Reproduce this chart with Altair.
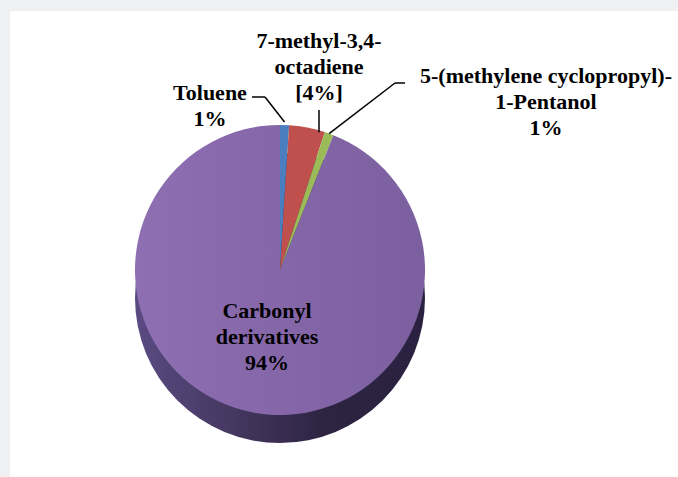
import math
import altair as alt
import pandas as pd

# ---- data ----
categories = ["Toluene", "7-methyl-3,4-octadiene",
              "5-(methylene cyclopropyl)-1-Pentanol", "Carbonyl derivatives"]
values = [1, 4, 1, 94]
label_lines = [["Toluene", "1%"],
               ["7-methyl-3,4-", "octadiene", "[4%]"],
               ["5-(methylene cyclopropyl)-", "1-Pentanol", "1%"],
               ["Carbonyl", "derivatives", "94%"]]
colors = ["#4a7ebf", "#c0504d", "#9bbb59", "#8466a8"]

# ---- layout (pixels) ----
W, H = 678, 477
CX, CY, R, DEPTH = 280, 270, 145, 28
label_xy = [(210, 93), (319, 41), (546, 76), (267, 311)]  # first-line centres
FONT = "Liberation Serif"

df = pd.DataFrame({"category": categories, "value": values,
                   "idx": list(range(len(categories)))})

# mid-angle edge points of each slice (derived from the values)
total = sum(values)
cum = 0
edge = []
for v in values:
    mid = (cum + v / 2) / total * 2 * math.pi
    edge.append((CX + R * math.sin(mid), CY - R * math.cos(mid)))
    cum += v

# leader lines
x_red = label_xy[1][0]
y_red = CY - math.sqrt(R ** 2 - (x_red - CX) ** 2)
segs = pd.DataFrame([
    {"x": 252, "y": 97, "x2": 265, "y2": 97},
    {"x": 265, "y": 97, "x2": edge[0][0], "y2": edge[0][1] - 3},
    {"x": x_red, "y": 110, "x2": x_red, "y2": y_red + 2},
    {"x": 405, "y": 83, "x2": 395, "y2": 83},
    {"x": 395, "y": 83, "x2": edge[2][0], "y2": edge[2][1]},
])

labels = pd.DataFrame({
    "x": [p[0] for p in label_xy],
    "y": [p[1] for p in label_xy],
    "text": ["\n".join(l) for l in label_lines],
})

frame = alt.Chart(pd.DataFrame({"a": [0]})).mark_rect(color="white").encode(
    x=alt.value(10), x2=alt.value(W), y=alt.value(11), y2=alt.value(H))

side_grad = alt.LinearGradient(
    gradient="linear", x1=0, x2=1, y1=0, y2=0,
    stops=[alt.GradientStop(color="#5a4a82", offset=0),
           alt.GradientStop(color="#44375f", offset=0.35),
           alt.GradientStop(color="#2d2442", offset=0.65),
           alt.GradientStop(color="#2a2140", offset=1)])

side = alt.Chart(df).mark_arc(outerRadius=R, fill=side_grad).encode(
    theta=alt.Theta("sum(value):Q"),
    x=alt.value(CX), y=alt.value(CY + DEPTH))

top_grad = alt.LinearGradient(
    gradient="linear", x1=0, x2=1, y1=0, y2=0,
    stops=[alt.GradientStop(color="#8d6fb2", offset=0),
           alt.GradientStop(color="#8567a9", offset=0.5),
           alt.GradientStop(color="#7b5f9e", offset=1)])

top = alt.Chart(df).mark_arc(outerRadius=R).encode(
    theta=alt.Theta("value:Q", stack=True),
    order=alt.Order("idx:Q"),
    fill=alt.condition(alt.datum.category == "Carbonyl derivatives",
                       alt.value(top_grad.to_dict()),
                       alt.Color("category:N",
                                 scale=alt.Scale(domain=categories, range=colors),
                                 legend=None)),
    x=alt.value(CX), y=alt.value(CY))

leaders = alt.Chart(segs).mark_rule(color="black", strokeWidth=1.5).encode(
    x=alt.X("x:Q", scale=None, axis=None),
    y=alt.Y("y:Q", scale=None, axis=None),
    x2="x2:Q", y2="y2:Q")

text = alt.Chart(labels).mark_text(
    font=FONT, fontWeight="bold", fontSize=22, lineHeight=26,
    lineBreak="\n", align="center", baseline="middle", color="black"
).encode(
    x=alt.X("x:Q", scale=None, axis=None),
    y=alt.Y("y:Q", scale=None, axis=None),
    text="text:N")

chart = alt.layer(frame, side, top, leaders, text).properties(
    width=W, height=H, padding=0, autosize="none", background="#eef0f2"
).configure_view(stroke=None)

chart.save("out.html", embed_options={"renderer": "svg", "actions": False})
